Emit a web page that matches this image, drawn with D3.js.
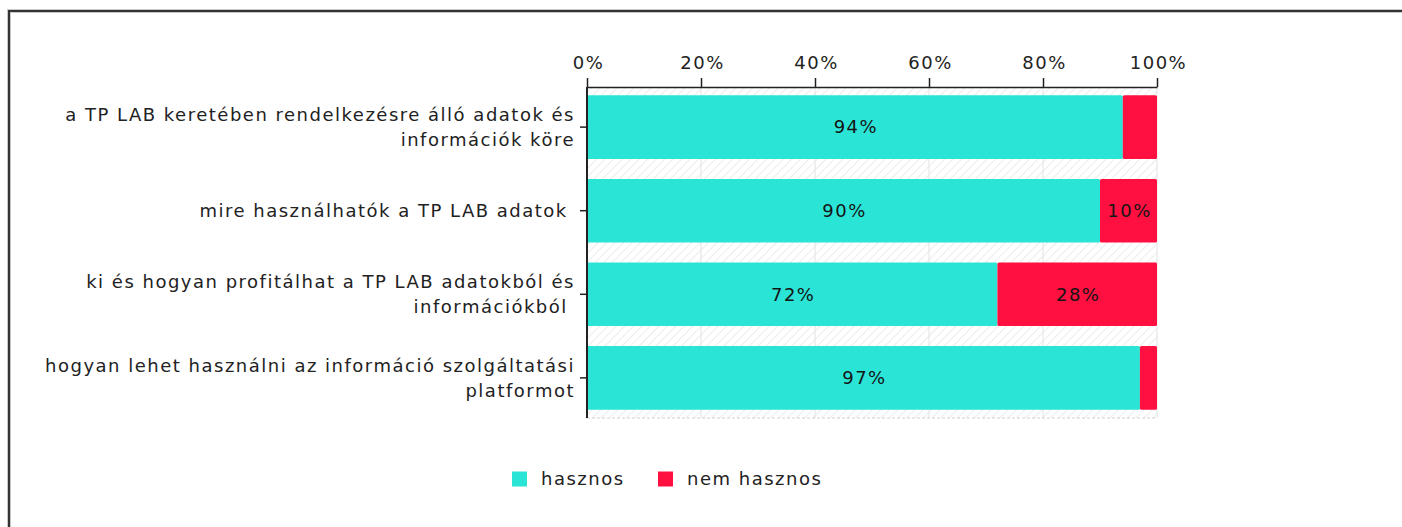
<!DOCTYPE html>
<html>
<head>
<meta charset="utf-8">
<script src="https://cdn.jsdelivr.net/npm/d3@7"></script>
<style>
  html, body { margin: 0; padding: 0; background: #fff; }
  svg { display: block; font-family: "DejaVu Sans", Verdana, sans-serif; }
  text { letter-spacing: 1.5px; }
</style>
</head>
<body>
<svg id="chart" width="1402" height="527"></svg>
<script>
const categories = [
  ["a TP LAB keretében rendelkezésre álló adatok és", "információk köre"],
  ["mire használhatók a TP LAB adatok "],
  ["ki és hogyan profitálhat a TP LAB adatokból és", "információkból "],
  ["hogyan lehet használni az információ szolgáltatási", "platformot"]
];
const hasznos = [94, 90, 72, 97];
const nemHasznos = [6, 10, 28, 3];
const seriesNames = ["hasznos", "nem hasznos"];
const seriesColors = ["#2ae5d6", "#ff1040"];
const xTicks = [0, 20, 40, 60, 80, 100];

const svg = d3.select("#chart");
const plotLeft = 587, plotRight = 1157, plotTop = 87, plotBottom = 418;

// frame
svg.append("path")
  .attr("d", "M9,540 L9,11 L1410,11")
  .attr("fill", "none")
  .attr("stroke", "#c8c8c8")
  .attr("stroke-width", 4);
svg.append("path")
  .attr("d", "M9,540 L9,11 L1410,11")
  .attr("fill", "none")
  .attr("stroke", "#333")
  .attr("stroke-width", 2);

// hatch pattern for plot background
const defs = svg.append("defs");
const pat = defs.append("pattern")
  .attr("id", "hatch")
  .attr("patternUnits", "userSpaceOnUse")
  .attr("width", 6).attr("height", 6)
  .attr("patternTransform", "rotate(45)");
pat.append("line")
  .attr("x1", 0).attr("y1", 0).attr("x2", 0).attr("y2", 6)
  .attr("stroke", "#ececec").attr("stroke-width", 2);

const x = d3.scaleLinear().domain([0, 100]).range([plotLeft, plotRight]);
const y = d3.scaleBand()
  .domain(d3.range(categories.length))
  .range([plotTop, plotBottom])
  .paddingInner(0.24)
  .paddingOuter(0.1);

svg.append("rect")
  .attr("x", plotLeft).attr("y", plotTop)
  .attr("width", plotRight - plotLeft).attr("height", plotBottom - plotTop)
  .attr("fill", "url(#hatch)");

// grid
svg.append("g")
  .selectAll("line")
  .data(xTicks.slice(1))
  .join("line")
  .attr("x1", d => x(d)).attr("x2", d => x(d))
  .attr("y1", plotTop).attr("y2", plotBottom)
  .attr("stroke", "#e2e2e2");

svg.append("line")
  .attr("x1", plotLeft).attr("x2", plotRight)
  .attr("y1", plotBottom).attr("y2", plotBottom)
  .attr("stroke", "#d0d0d0")
  .attr("stroke-dasharray", "3,2");

// bars
const stacks = categories.map((c, i) => [
  { i, s: 0, x0: 0, x1: hasznos[i], v: hasznos[i] },
  { i, s: 1, x0: hasznos[i], x1: hasznos[i] + nemHasznos[i], v: nemHasznos[i] }
]).flat();

svg.append("g")
  .selectAll("rect")
  .data(stacks)
  .join("rect")
  .attr("x", d => x(d.x0))
  .attr("y", d => y(d.i))
  .attr("width", d => x(d.x1) - x(d.x0))
  .attr("height", y.bandwidth())
  .attr("rx", 1.5)
  .attr("fill", d => seriesColors[d.s]);

svg.append("g")
  .selectAll("text")
  .data(stacks.filter(d => d.v >= 10))
  .join("text")
  .attr("x", d => (x(d.x0) + x(d.x1)) / 2 + 1)
  .attr("y", d => y(d.i) + y.bandwidth() / 2)
  .attr("dy", "0.35em")
  .attr("text-anchor", "middle")
  .attr("font-size", 18)
  .attr("fill", "#141414")
  .text(d => d.v + "%");

// x axis (top)
const xAxis = svg.append("g")
  .attr("transform", `translate(0,${plotTop})`)
  .call(d3.axisTop(x).tickValues(xTicks).tickFormat(d => d + "%").tickSize(9).tickSizeOuter(0));
xAxis.select(".domain").attr("stroke", "#222").attr("stroke-width", 1.5);
xAxis.selectAll(".tick line").attr("stroke", "#222").attr("stroke-width", 1.5);
xAxis.selectAll("text")
  .attr("font-size", 18)
  .attr("font-family", "DejaVu Sans, Verdana, sans-serif")
  .attr("fill", "#222")
  .attr("dx", "1px")
  .attr("dy", "-0.35em");

// y axis
svg.append("line")
  .attr("x1", plotLeft).attr("x2", plotLeft)
  .attr("y1", plotTop).attr("y2", plotBottom)
  .attr("stroke", "#222").attr("stroke-width", 2);

const yTicks = svg.append("g")
  .selectAll("g")
  .data(categories)
  .join("g")
  .attr("transform", (d, i) => `translate(0,${y(i) + y.bandwidth() / 2})`);

yTicks.append("line")
  .attr("x1", plotLeft - 7).attr("x2", plotLeft)
  .attr("stroke", "#222").attr("stroke-width", 1.5);

yTicks.append("text")
  .attr("text-anchor", "end")
  .attr("font-size", 18)
  .attr("fill", "#222")
  .selectAll("tspan")
  .data(d => d.map((t, k) => ({ t, k, n: d.length })))
  .join("tspan")
  .attr("x", plotLeft - 12)
  .attr("y", d => (d.k - (d.n - 1) / 2) * 25)
  .attr("dy", "0.35em")
  .attr("xml:space", "preserve")
  .text(d => d.t);

// legend
const legend = svg.append("g").attr("transform", "translate(512,479)");
const legendX = [0, 146];
const items = legend.selectAll("g")
  .data(seriesNames)
  .join("g")
  .attr("transform", (d, i) => `translate(${legendX[i]},0)`);
items.append("rect")
  .attr("x", 0).attr("y", -7.5)
  .attr("width", 15).attr("height", 15)
  .attr("fill", (d, i) => seriesColors[i]);
items.append("text")
  .attr("x", 29)
  .attr("dy", "0.35em")
  .attr("font-size", 18)
  .attr("fill", "#222")
  .text(d => d);
</script>
</body>
</html>
